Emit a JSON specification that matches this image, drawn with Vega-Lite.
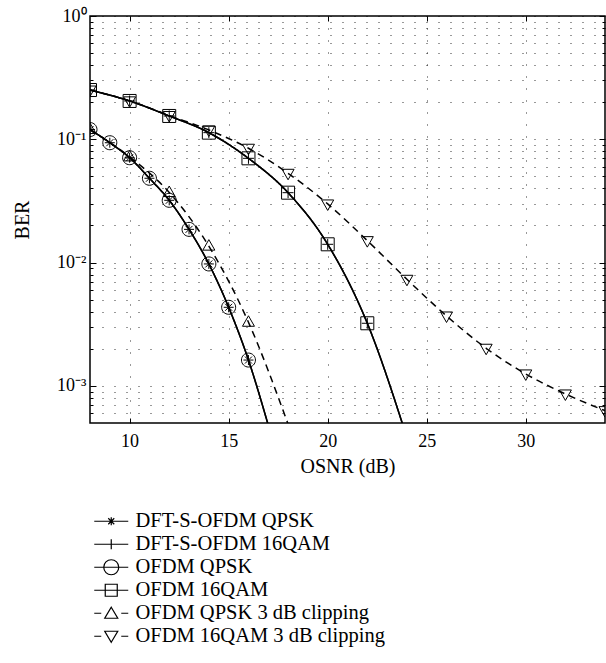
{
  "$schema": "https://vega.github.io/schema/vega-lite/v6.json",
  "autosize": {"type": "none"},
  "padding": {"left": 90, "top": 16, "right": 1, "bottom": 240},
  "width": 515,
  "height": 407,
  "background": "white",
  "config": {
    "view": {"stroke": "black", "strokeWidth": 1.5},
    "font": "Liberation Serif",
    "axis": {
      "labelFont": "Liberation Serif",
      "labelFontSize": 18,
      "labelColor": "black",
      "titleFont": "Liberation Serif",
      "titleFontSize": 20,
      "titleFontWeight": "normal",
      "titleColor": "black",
      "tickColor": "black",
      "tickWidth": 1,
      "domain": false
    },
    "legend": {
      "labelFont": "Liberation Serif",
      "labelFontSize": 20.5,
      "labelColor": "black"
    }
  },
  "data": {
    "values": [
      {"series": "DFT-S-OFDM QPSK", "osnr": 8, "ber": 0.120},
      {"series": "DFT-S-OFDM QPSK", "osnr": 9, "ber": 0.0938},
      {"series": "DFT-S-OFDM QPSK", "osnr": 10, "ber": 0.0709},
      {"series": "DFT-S-OFDM QPSK", "osnr": 11, "ber": 0.0483},
      {"series": "DFT-S-OFDM QPSK", "osnr": 12, "ber": 0.0320},
      {"series": "DFT-S-OFDM QPSK", "osnr": 13, "ber": 0.0186},
      {"series": "DFT-S-OFDM QPSK", "osnr": 14, "ber": 0.00975},
      {"series": "DFT-S-OFDM QPSK", "osnr": 15, "ber": 0.00434},
      {"series": "DFT-S-OFDM QPSK", "osnr": 16, "ber": 0.00162},
      {"series": "DFT-S-OFDM QPSK", "osnr": 17, "ber": 0.00048},
      {"series": "DFT-S-OFDM 16QAM", "osnr": 8, "ber": 0.251},
      {"series": "DFT-S-OFDM 16QAM", "osnr": 10, "ber": 0.2046},
      {"series": "DFT-S-OFDM 16QAM", "osnr": 12, "ber": 0.1546},
      {"series": "DFT-S-OFDM 16QAM", "osnr": 14, "ber": 0.1132},
      {"series": "DFT-S-OFDM 16QAM", "osnr": 16, "ber": 0.0701},
      {"series": "DFT-S-OFDM 16QAM", "osnr": 18, "ber": 0.0369},
      {"series": "DFT-S-OFDM 16QAM", "osnr": 20, "ber": 0.01407},
      {"series": "DFT-S-OFDM 16QAM", "osnr": 22, "ber": 0.00322},
      {"series": "DFT-S-OFDM 16QAM", "osnr": 24, "ber": 0.00038},
      {"series": "OFDM QPSK", "osnr": 8, "ber": 0.120},
      {"series": "OFDM QPSK", "osnr": 9, "ber": 0.0938},
      {"series": "OFDM QPSK", "osnr": 10, "ber": 0.0709},
      {"series": "OFDM QPSK", "osnr": 11, "ber": 0.0483},
      {"series": "OFDM QPSK", "osnr": 12, "ber": 0.0320},
      {"series": "OFDM QPSK", "osnr": 13, "ber": 0.0186},
      {"series": "OFDM QPSK", "osnr": 14, "ber": 0.00975},
      {"series": "OFDM QPSK", "osnr": 15, "ber": 0.00434},
      {"series": "OFDM QPSK", "osnr": 16, "ber": 0.00162},
      {"series": "OFDM QPSK", "osnr": 17, "ber": 0.00048},
      {"series": "OFDM 16QAM", "osnr": 8, "ber": 0.251},
      {"series": "OFDM 16QAM", "osnr": 10, "ber": 0.2046},
      {"series": "OFDM 16QAM", "osnr": 12, "ber": 0.1546},
      {"series": "OFDM 16QAM", "osnr": 14, "ber": 0.1132},
      {"series": "OFDM 16QAM", "osnr": 16, "ber": 0.0701},
      {"series": "OFDM 16QAM", "osnr": 18, "ber": 0.0369},
      {"series": "OFDM 16QAM", "osnr": 20, "ber": 0.01407},
      {"series": "OFDM 16QAM", "osnr": 22, "ber": 0.00322},
      {"series": "OFDM 16QAM", "osnr": 24, "ber": 0.00038},
      {"series": "OFDM QPSK 3 dB clipping", "osnr": 8, "ber": 0.120},
      {"series": "OFDM QPSK 3 dB clipping", "osnr": 10, "ber": 0.072},
      {"series": "OFDM QPSK 3 dB clipping", "osnr": 12, "ber": 0.037},
      {"series": "OFDM QPSK 3 dB clipping", "osnr": 14, "ber": 0.0136},
      {"series": "OFDM QPSK 3 dB clipping", "osnr": 16, "ber": 0.00328},
      {"series": "OFDM QPSK 3 dB clipping", "osnr": 18, "ber": 0.00049},
      {"series": "OFDM 16QAM 3 dB clipping", "osnr": 8, "ber": 0.251},
      {"series": "OFDM 16QAM 3 dB clipping", "osnr": 10, "ber": 0.205},
      {"series": "OFDM 16QAM 3 dB clipping", "osnr": 12, "ber": 0.156},
      {"series": "OFDM 16QAM 3 dB clipping", "osnr": 14, "ber": 0.119},
      {"series": "OFDM 16QAM 3 dB clipping", "osnr": 16, "ber": 0.0846},
      {"series": "OFDM 16QAM 3 dB clipping", "osnr": 18, "ber": 0.0530},
      {"series": "OFDM 16QAM 3 dB clipping", "osnr": 20, "ber": 0.0299},
      {"series": "OFDM 16QAM 3 dB clipping", "osnr": 22, "ber": 0.01507},
      {"series": "OFDM 16QAM 3 dB clipping", "osnr": 24, "ber": 0.00732},
      {"series": "OFDM 16QAM 3 dB clipping", "osnr": 26, "ber": 0.00369},
      {"series": "OFDM 16QAM 3 dB clipping", "osnr": 28, "ber": 0.00202},
      {"series": "OFDM 16QAM 3 dB clipping", "osnr": 30, "ber": 0.00125},
      {"series": "OFDM 16QAM 3 dB clipping", "osnr": 32, "ber": 0.00086},
      {"series": "OFDM 16QAM 3 dB clipping", "osnr": 34, "ber": 0.00063}
    ]
  },
  "resolve": {"axis": {"x": "independent", "y": "independent"}, "scale": {"shape": "independent"}, "legend": {"shape": "independent"}},
  "layer": [
    {
      "mark": {"type": "line", "clip": true, "interpolate": "monotone", "color": "black", "strokeWidth": 1.5},
      "encoding": {
        "x": {
          "field": "osnr", "type": "quantitative",
          "scale": {"domain": [8, 34], "nice": false, "zero": false},
          "axis": {
            "orient": "bottom",
            "values": [10, 15, 20, 25, 30],
            "title": "OSNR (dB)",
            "tickSize": -5,
            "labelPadding": 14,
            "titlePadding": 6,
            "grid": true,
            "gridDash": [1, 11],
            "gridColor": "black",
            "gridOpacity": 0.8,
            "gridWidth": 1
          }
        },
        "y": {
          "field": "ber", "type": "quantitative",
          "scale": {"type": "log", "domain": [0.0005, 1], "nice": false},
          "axis": {
            "orient": "left",
            "values": [0.0006, 0.0007, 0.0008, 0.0009, 0.001, 0.002, 0.003, 0.004, 0.005, 0.006, 0.007, 0.008, 0.009, 0.01, 0.02, 0.03, 0.04, 0.05, 0.06, 0.07, 0.08, 0.09, 0.1, 0.2, 0.3, 0.4, 0.5, 0.6, 0.7, 0.8, 0.9, 1],
            "labelExpr": "datum.value == 1 ? '10⁰' : datum.value == 0.1 ? '10⁻¹' : datum.value == 0.01 ? '10⁻²' : datum.value == 0.001 ? '10⁻³' : ''",
            "title": "BER",
            "titlePadding": 24,
            "tickSize": {"condition": {"test": "datum.value == 1 || datum.value == 0.1 || datum.value == 0.01 || datum.value == 0.001", "value": -6}, "value": -3},
            "labelPadding": 10,
            "labelOverlap": false,
            "grid": true,
            "gridDash": [1, 11],
            "gridColor": "black",
            "gridOpacity": 0.8,
            "gridWidth": 1
          }
        },
        "detail": {"field": "series", "type": "nominal"},
        "strokeDash": {
          "field": "series", "type": "nominal",
          "scale": {
            "domain": ["DFT-S-OFDM QPSK", "DFT-S-OFDM 16QAM", "OFDM QPSK", "OFDM 16QAM", "OFDM QPSK 3 dB clipping", "OFDM 16QAM 3 dB clipping"],
            "range": [[1, 0], [1, 0], [1, 0], [1, 0], [7, 5], [7, 5]]
          },
          "legend": null
        }
      }
    },
    {
      "transform": [{"filter": "datum.ber >= 0.0005"}],
      "mark": {"type": "point", "clip": true, "filled": false, "color": "black", "strokeWidth": 1, "size": 100, "opacity": 1},
      "encoding": {
        "x": {
          "field": "osnr", "type": "quantitative",
          "axis": {"orient": "top", "values": [10, 15, 20, 25, 30], "labels": false, "title": null, "tickSize": -5, "grid": false}
        },
        "y": {
          "field": "ber", "type": "quantitative",
          "axis": {
            "orient": "right",
            "values": [0.0006, 0.0007, 0.0008, 0.0009, 0.001, 0.002, 0.003, 0.004, 0.005, 0.006, 0.007, 0.008, 0.009, 0.01, 0.02, 0.03, 0.04, 0.05, 0.06, 0.07, 0.08, 0.09, 0.1, 0.2, 0.3, 0.4, 0.5, 0.6, 0.7, 0.8, 0.9, 1],
            "labels": false, "title": null, "grid": false,
            "tickSize": {"condition": {"test": "datum.value == 1 || datum.value == 0.1 || datum.value == 0.01 || datum.value == 0.001", "value": -6}, "value": -3}
          }
        },
        "shape": {
          "field": "series", "type": "nominal",
          "scale": {
            "domain": ["DFT-S-OFDM QPSK", "DFT-S-OFDM 16QAM", "OFDM QPSK", "OFDM 16QAM", "OFDM QPSK 3 dB clipping", "OFDM 16QAM 3 dB clipping"],
            "range": [
              "M0,-1V1M-1,0H1M-0.7,-0.7L0.7,0.7M-0.7,0.7L0.7,-0.7",
              "M0,-1.1V1.1M-1.1,0H1.1",
              "M1.4,0A1.4,1.4 0 1,1 -1.4,0A1.4,1.4 0 1,1 1.4,0Z",
              "M-1.3,-1.3H1.3V1.3H-1.3Z",
              "M0,-1.3L1.2,0.8L-1.2,0.8Z",
              "M0,1.3L1.2,-0.8L-1.2,-0.8Z"
            ]
          },
          "legend": null
        }
      }
    },
    {
      "transform": [{"filter": "datum.ber < 0"}],
      "mark": {"type": "point", "filled": false, "color": "black", "strokeWidth": 1.2, "size": 100, "opacity": 1},
      "encoding": {
        "x": {"field": "osnr", "type": "quantitative", "axis": null},
        "y": {"field": "ber", "type": "quantitative", "axis": null},
        "shape": {
          "field": "series", "type": "nominal",
          "scale": {
            "domain": ["DFT-S-OFDM QPSK", "DFT-S-OFDM 16QAM", "OFDM QPSK", "OFDM 16QAM", "OFDM QPSK 3 dB clipping", "OFDM 16QAM 3 dB clipping"],
            "range": [
              "M-3.4,0H3.4M0,-0.8V0.8M-0.8,0H0.8M-0.6,-0.6L0.6,0.6M-0.6,0.6L0.6,-0.6",
              "M-3.4,0H3.4M0,-1V1",
              "M-3.4,0H3.4M1.5,0A1.5,1.5 0 1,1 -1.5,0A1.5,1.5 0 1,1 1.5,0",
              "M-3.4,0H3.4M-1.2,-1.2H1.2V1.2H-1.2Z",
              "M-3.4,0H-2M2,0H3.4M0,-1.2L1.3,1L-1.3,1Z",
              "M-3.4,0H-2M2,0H3.4M0,1.2L1.3,-1L-1.3,-1Z"
            ]
          },
          "legend": {
            "title": null,
            "orient": "none",
            "legendX": 11,
            "legendY": 495,
            "padding": 0,
            "symbolSize": 100,
            "symbolFillColor": "transparent",
            "symbolStrokeColor": "black",
            "symbolStrokeWidth": 1.2,
            "labelOffset": 14,
            "labelLimit": 400,
            "rowPadding": 2
          }
        }
      }
    }
  ]
}
